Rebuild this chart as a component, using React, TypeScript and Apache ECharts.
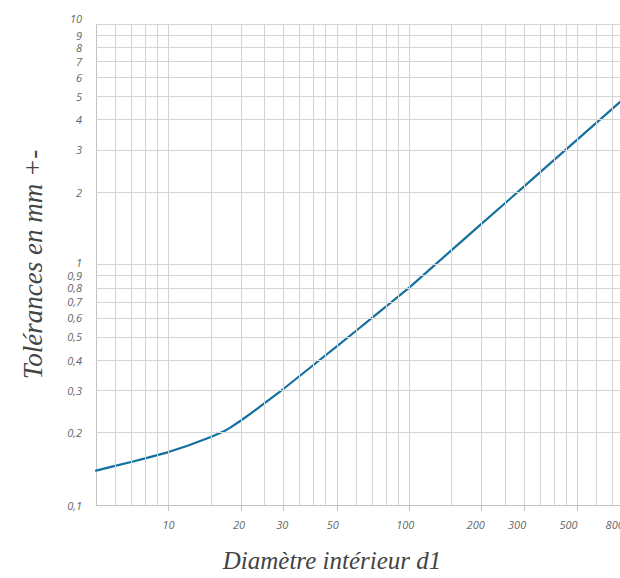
import React, { useEffect, useRef } from 'react';
import * as echarts from 'echarts';

// Inner diameter d1 (mm) and tolerance (mm +-)
const diameters = [5, 6, 7, 8, 10, 12, 15, 17, 18, 20, 22, 25, 30, 40, 50, 60, 70, 80, 100, 150, 200, 250, 300, 400, 500, 600, 800];
const tolerances = [0.139, 0.1455, 0.151, 0.1563, 0.166, 0.1763, 0.1917, 0.2027, 0.2092, 0.2246, 0.2406, 0.2645, 0.3036, 0.382, 0.457, 0.529, 0.6, 0.668, 0.801, 1.148, 1.478, 1.798, 2.112, 2.722, 3.314, 3.89, 5.01];

const xTickValues = [10, 20, 30, 50, 100, 200, 300, 500, 800];
const xTickLabels = ['10', '20', '30', '50', '100', '200', '300', '500', '800'];
const yTickValues = [0.1, 0.2, 0.3, 0.4, 0.5, 0.6, 0.7, 0.8, 0.9, 1, 2, 3, 4, 5, 6, 7, 8, 9, 10];
const yTickLabels = ['0,1', '0,2', '0,3', '0,4', '0,5', '0,6', '0,7', '0,8', '0,9', '1', '2', '3', '4', '5', '6', '7', '8', '9', '10'];

const xGridValues = [6, 7, 8, 9, 10, 15, 20, 25, 30, 35, 40, 45, 50, 60, 70, 80, 90, 100, 150, 200, 250, 300, 350, 400, 450, 500, 600, 700, 800, 900];
const yGridValues = [0.2, 0.3, 0.4, 0.5, 0.6, 0.7, 0.8, 0.9, 1, 2, 3, 4, 5, 6, 7, 8, 9, 10];

function indexOfValue(values: number[], v: number): number {
  for (let i = 0; i < values.length; i++) {
    if (Math.abs(values[i] - v) / values[i] < 1e-6) return i;
  }
  return -1;
}

export default function App() {
  const ref = useRef<HTMLDivElement>(null);
  useEffect(() => {
    const chart = echarts.init(ref.current as HTMLDivElement, null, { renderer: 'svg' });
    const tickFont = { fontFamily: 'Open Sans', fontStyle: 'italic', fontSize: 11, color: '#666666' };
    const titleFont = { fontFamily: 'Liberation Serif', fontStyle: 'italic', color: '#444444' };
    // small leftward shifts of the hand-lettered x labels (px)
    const xShift = [0, 2, 1, 4, 4, 6, 7, 9, 12];
    const xRich: Record<string, any> = {};
    xShift.forEach((s, i) => {
      xRich['s' + i] = { ...tickFont, padding: [0, s * 2, 0, 0] };
    });
    chart.setOption({
      animation: false,
      grid: { left: 96, top: 24, width: 554, height: 481 },
      xAxis: {
        type: 'log',
        logBase: 10,
        min: 5,
        max: 1000,
        name: 'Diamètre intérieur d1',
        nameLocation: 'middle',
        nameGap: 43,
        nameTextStyle: { ...titleFont, fontSize: 25, padding: [0, 82, 0, 0] },
        axisLine: { show: true, lineStyle: { color: '#c4c4c4', width: 1 } },
        axisTick: { show: true, customValues: xTickValues, length: 6, lineStyle: { color: '#c4c4c4' } },
        axisLabel: {
          ...tickFont,
          customValues: xTickValues,
          margin: 14,
          showMinLabel: true,
          showMaxLabel: true,
          rich: xRich,
          formatter: (v: number) => {
            const i = indexOfValue(xTickValues, v);
            return i < 0 ? '' : '{s' + i + '|' + xTickLabels[i] + '}';
          },
        },
        splitLine: { show: false },
      },
      yAxis: {
        type: 'log',
        logBase: 10,
        min: 0.1,
        max: 10,
        name: 'Tolérances en mm +-',
        nameLocation: 'middle',
        nameGap: 50,
        nameTextStyle: { ...titleFont, fontSize: 27 },
        axisLine: { show: true, lineStyle: { color: '#c4c4c4', width: 1 } },
        axisTick: { show: false },
        axisLabel: {
          ...tickFont,
          customValues: yTickValues,
          margin: 14,
          showMinLabel: true,
          showMaxLabel: true,
          hideOverlap: false,
          rich: {
            top: { ...tickFont, padding: [0, 0, 12, 0] },
            one: { ...tickFont, padding: [0, 0, 4, 0] },
          },
          formatter: (v: number) => {
            const i = indexOfValue(yTickValues, v);
            if (i < 0) return '';
            if (i === yTickValues.length - 1) return '{top|' + yTickLabels[i] + '}';
            if (yTickValues[i] === 1) return '{one|' + yTickLabels[i] + '}';
            return yTickLabels[i];
          },
        },
        splitLine: { show: false },
      },
      series: [
        {
          type: 'line',
          data: [],
          silent: true,
          z: 1,
          markLine: {
            silent: true,
            symbol: ['none', 'none'],
            label: { show: false },
            lineStyle: { color: '#d4d4d4', width: 1, type: 'solid' },
            emphasis: { disabled: true },
            data: [
              ...xGridValues.map((v) => ({ xAxis: v })),
              ...yGridValues.map((v) => ({ yAxis: v })),
            ],
          },
        },
        {
          type: 'line',
          z: 3,
          data: diameters.map((d, i) => [d, tolerances[i]]),
          showSymbol: false,
          smooth: false,
          lineStyle: { color: '#13709f', width: 2.2, join: 'round', cap: 'round' },
          itemStyle: { color: '#13709f' },
        },
      ],
    });
    return () => chart.dispose();
  }, []);
  return (
    <div style={{ position: 'fixed', left: 0, top: 0, width: 620, height: 578, overflow: 'hidden', background: '#ffffff' }}>
      <div ref={ref} style={{ width: 700, height: 578 }} />
    </div>
  );
}
